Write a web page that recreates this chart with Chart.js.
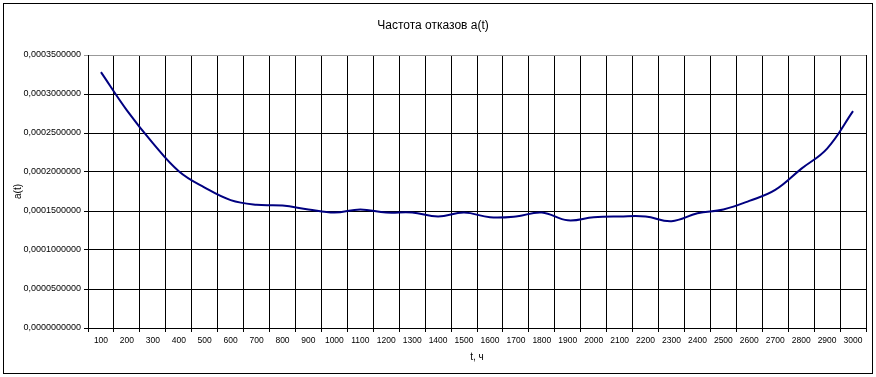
<!DOCTYPE html>
<html>
<head>
<meta charset="utf-8">
<script src="https://cdn.jsdelivr.net/npm/chart.js@4"></script>
<style>
    html, body { margin: 0; padding: 0; background: #fff; }
    #wrap { width: 876px; height: 377px; position: relative; }
</style>
</head>
<body>
<div id="wrap"><canvas id="rateChart" width="876" height="377"></canvas></div>
<script>
// t, ч
const hours = ['100', '200', '300', '400', '500', '600', '700', '800', '900', '1000',
    '1100', '1200', '1300', '1400', '1500', '1600', '1700', '1800', '1900', '2000',
    '2100', '2200', '2300', '2400', '2500', '2600', '2700', '2800', '2900', '3000'];
// a(t)
const failureRate = [0.000328, 0.000279, 0.000237, 0.000201, 0.000180, 0.000164, 0.000158, 0.000157, 0.000152, 0.000148,
    0.000152, 0.000148, 0.000148, 0.000143, 0.000148, 0.000142, 0.000143, 0.000148, 0.000138, 0.000142,
    0.000143, 0.000143, 0.000137, 0.000147, 0.000152, 0.000163, 0.000177, 0.000204, 0.000230, 0.000278];
const yMin = 0;
const yMax = 0.00035;
const yStep = 0.00005;

const fontFamily = "'Liberation Sans', Arial, sans-serif";

// outer frame around the whole chart
const framePlugin = {
    id: 'frame',
    beforeDraw(chart) {
        const c = chart.ctx;
        c.save();
        c.fillStyle = '#fff';
        c.fillRect(0, 0, chart.width, chart.height);
        c.restore();
    },
    afterDraw(chart) {
        const c = chart.ctx;
        c.save();
        c.strokeStyle = '#000';
        c.lineWidth = 1;
        c.strokeRect(3.5, 3.5, 869, 370);
        c.restore();
    }
};

const ctx = document.getElementById('rateChart');
const rateChart = new Chart(ctx, {
    type: 'line',
    data: {
        labels: hours,
        datasets: [{
            label: 'a(t)',
            data: failureRate,
            borderColor: '#000080',
            borderWidth: 2,
            pointRadius: 0,
            tension: 0.4,
            fill: false
        }]
    },
    options: {
        responsive: false,
        animation: false,
        layout: { padding: { left: 0, right: 10, top: 0, bottom: 0 } },
        plugins: {
            legend: { display: false },
            tooltip: { enabled: false },
            title: {
                display: true,
                text: 'Частота отказов a(t)',
                color: '#000',
                font: { family: fontFamily, size: 12, weight: 'normal' },
                padding: { top: 18, bottom: 22.6 }
            }
        },
        scales: {
            x: {
                offset: true,
                grid: {
                    offset: true,
                    color: c => c.index === hours.length ? '#999' : '#000',
                    lineWidth: 1,
                    tickLength: 4
                },
                border: { display: true, color: '#000' },
                ticks: {
                    color: '#000',
                    autoSkip: false,
                    maxRotation: 0,
                    padding: 4,
                    font: { family: fontFamily, size: 8.5 }
                },
                title: {
                    display: true,
                    text: 't, ч',
                    color: '#000',
                    font: { family: fontFamily, size: 10, weight: 'normal' },
                    padding: { top: 0, bottom: 14 }
                },
                afterFit: scale => { scale.height = 49; }
            },
            y: {
                min: yMin,
                max: yMax,
                grid: {
                    color: c => (c.tick && Math.abs(c.tick.value - yMax) < 1e-9) ? '#999' : '#000',
                    lineWidth: 1,
                    tickLength: 4
                },
                border: { display: true, color: '#000' },
                ticks: {
                    stepSize: yStep,
                    color: '#000',
                    padding: 3,
                    font: { family: fontFamily, size: 9 },
                    callback: v => Number(v).toFixed(10).replace('.', ',')
                },
                title: {
                    display: true,
                    text: 'a(t)',
                    color: '#000',
                    font: { family: fontFamily, size: 10, weight: 'normal' },
                    padding: { top: 12, bottom: 0 }
                },
                afterFit: scale => { scale.width = 88; }
            }
        }
    },
    plugins: [framePlugin]
});
</script>
</body>
</html>
